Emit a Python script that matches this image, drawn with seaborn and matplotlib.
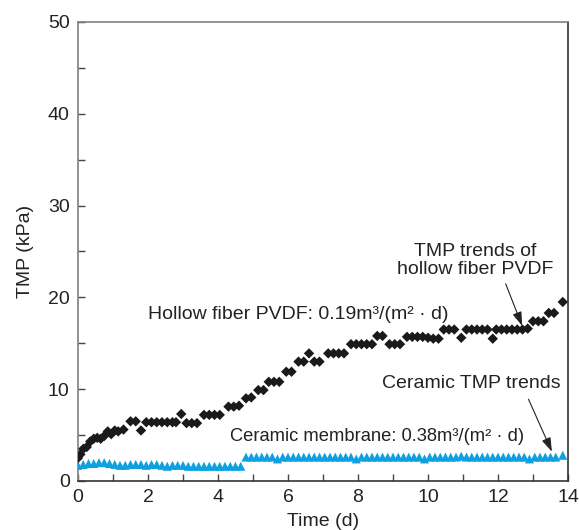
import matplotlib
matplotlib.use("Agg")
import matplotlib.pyplot as plt
from matplotlib.ticker import MultipleLocator
import seaborn as sns
import pandas as pd

# Hollow fiber PVDF membrane TMP (kPa) vs time (d)
pvdf_time = [0.00, 0.07, 0.15, 0.25, 0.35, 0.45, 0.55, 0.65, 0.75, 0.85,
             0.95, 1.05, 1.15, 1.30, 1.50, 1.65, 1.80, 1.95, 2.10, 2.25,
             2.40, 2.55, 2.70, 2.80, 2.95, 3.10, 3.25, 3.40, 3.60, 3.75,
             3.90, 4.05, 4.30, 4.45, 4.60, 4.80, 4.95, 5.15, 5.30, 5.45,
             5.60, 5.75, 5.95, 6.10, 6.30, 6.45, 6.60, 6.75, 6.90, 7.15,
             7.30, 7.45, 7.60, 7.80, 7.95, 8.10, 8.25, 8.40, 8.55, 8.70,
             8.90, 9.05, 9.20, 9.40, 9.55, 9.70, 9.85, 10.00, 10.15, 10.30,
             10.45, 10.60, 10.75, 10.95, 11.10, 11.25, 11.40, 11.55, 11.70, 11.85,
             11.95, 12.10, 12.25, 12.40, 12.55, 12.70, 12.85, 13.00, 13.15, 13.30,
             13.45, 13.60, 13.85]
pvdf_tmp = [2.5, 2.9, 3.5, 3.7, 4.3, 4.6, 4.7, 4.6, 4.9, 5.4,
            5.1, 5.5, 5.4, 5.6, 6.5, 6.5, 5.5, 6.4, 6.4, 6.4,
            6.4, 6.4, 6.4, 6.4, 7.3, 6.3, 6.3, 6.3, 7.2, 7.2,
            7.2, 7.2, 8.1, 8.1, 8.2, 9.0, 9.1, 9.9, 9.9, 10.8,
            10.8, 10.8, 11.9, 11.9, 13.0, 13.0, 13.9, 13.0, 13.0, 13.9,
            13.9, 13.9, 13.9, 14.9, 14.9, 14.9, 14.9, 14.9, 15.8, 15.8,
            14.9, 14.9, 14.9, 15.7, 15.7, 15.7, 15.7, 15.6, 15.5, 15.5,
            16.5, 16.5, 16.5, 15.6, 16.5, 16.5, 16.5, 16.5, 16.5, 15.5,
            16.5, 16.5, 16.5, 16.5, 16.5, 16.5, 16.6, 17.4, 17.4, 17.4,
            18.3, 18.3, 19.5]

# Ceramic membrane TMP (kPa) vs time (d)
cer_time = [0.00, 0.15, 0.30, 0.45, 0.60, 0.75, 0.90, 1.05, 1.20, 1.35,
            1.50, 1.65, 1.80, 1.95, 2.10, 2.25, 2.40, 2.55, 2.70, 2.85,
            3.00, 3.15, 3.30, 3.45, 3.60, 3.75, 3.90, 4.05, 4.20, 4.35,
            4.50, 4.65,
            4.80, 4.95, 5.10, 5.25, 5.40, 5.55, 5.70, 5.85, 6.00, 6.15,
            6.30, 6.45, 6.60, 6.75, 6.90, 7.05, 7.20, 7.35, 7.50, 7.65,
            7.80, 7.95, 8.10, 8.25, 8.40, 8.55, 8.70, 8.85, 9.00, 9.15,
            9.30, 9.45, 9.60, 9.75, 9.90, 10.05, 10.20, 10.35, 10.50, 10.65,
            10.80, 10.95, 11.10, 11.25, 11.40, 11.55, 11.70, 11.85, 12.00, 12.15,
            12.30, 12.45, 12.60, 12.75, 12.90, 13.05, 13.20, 13.35, 13.50, 13.65,
            13.85]
cer_tmp = [1.7, 1.8, 1.9, 1.9, 2.0, 2.0, 1.9, 1.8, 1.7, 1.7,
           1.8, 1.8, 1.8, 1.7, 1.8, 1.8, 1.7, 1.6, 1.7, 1.7,
           1.7, 1.6, 1.6, 1.6, 1.6, 1.6, 1.6, 1.6, 1.6, 1.6,
           1.6, 1.6,
           2.6, 2.6, 2.6, 2.6, 2.6, 2.6, 2.4, 2.6, 2.6, 2.6,
           2.6, 2.6, 2.6, 2.6, 2.6, 2.6, 2.6, 2.6, 2.6, 2.6,
           2.6, 2.4, 2.6, 2.6, 2.6, 2.6, 2.6, 2.6, 2.6, 2.6,
           2.6, 2.6, 2.6, 2.6, 2.4, 2.6, 2.6, 2.6, 2.6, 2.6,
           2.6, 2.7, 2.6, 2.6, 2.6, 2.6, 2.6, 2.6, 2.6, 2.6,
           2.6, 2.6, 2.6, 2.6, 2.4, 2.6, 2.6, 2.6, 2.6, 2.6,
           2.8]

pvdf_df = pd.DataFrame({"time": pvdf_time, "tmp": pvdf_tmp})
cer_df = pd.DataFrame({"time": cer_time, "tmp": cer_tmp})

sns.set_style("ticks")
plt.rcParams['font.family'] = ['Liberation Sans', 'DejaVu Sans']

fig = plt.figure(figsize=(5.79, 5.30), dpi=100)
ax = fig.add_axes([0.1347, 0.0925, 0.8463, 0.866])

sns.scatterplot(data=cer_df, x="time", y="tmp", ax=ax, marker="^", s=42,
                color="#0ea0e0", edgecolor="none", linewidth=0, zorder=3)
sns.scatterplot(data=pvdf_df, x="time", y="tmp", ax=ax, marker="D", s=28,
                color="#1a1a1a", edgecolor="none", linewidth=0, zorder=4)

ax.set_xlim(0, 14)
ax.set_ylim(0, 50)
ax.xaxis.set_major_locator(MultipleLocator(2))
ax.xaxis.set_minor_locator(MultipleLocator(1))
ax.yaxis.set_major_locator(MultipleLocator(10))
ax.yaxis.set_minor_locator(MultipleLocator(5))
ax.tick_params(which="both", direction="in", length=5, width=1,
               color="#444444", labelsize=14, labelcolor="#222222", pad=6)

for side in ["left", "top"]:
    ax.spines[side].set_color("#808080")
for side in ["right", "bottom"]:
    ax.spines[side].set_color("#333333")
for side in ax.spines:
    ax.spines[side].set_linewidth(1.2)

ax.set_xlabel("Time (d)", fontsize=14, color="#222222", labelpad=5)
ax.set_ylabel("TMP (kPa)", fontsize=14, color="#222222", labelpad=10)

txt_kw = dict(fontsize=14, color="#222222")
ax.text(2.0, 18.1, "Hollow fiber PVDF: 0.19m³/(m² · d)", va="center", ha="left", **txt_kw)
ax.text(4.35, 4.8, "Ceramic membrane: 0.38m³/(m² · d)", va="center", ha="left",
        fontsize=13.2, color="#222222")

ax.annotate("TMP trends of\nhollow fiber PVDF", xy=(12.69, 16.9), xytext=(11.35, 24.0),
            ha="center", va="center", linespacing=1.05,
            arrowprops=dict(arrowstyle="-|>,head_length=0.6,head_width=0.2",
                            color="#222222", lw=0.8, shrinkA=2, shrinkB=0,
                            relpos=(0.68, 0.0)),
            **txt_kw)
ax.annotate("Ceramic TMP trends", xy=(13.54, 3.2), xytext=(11.25, 10.6),
            ha="center", va="center",
            arrowprops=dict(arrowstyle="-|>,head_length=0.6,head_width=0.2",
                            color="#222222", lw=0.8, shrinkA=3, shrinkB=0,
                            relpos=(0.8, 0.0)),
            **txt_kw)

fig.savefig("out.png", dpi=100)
